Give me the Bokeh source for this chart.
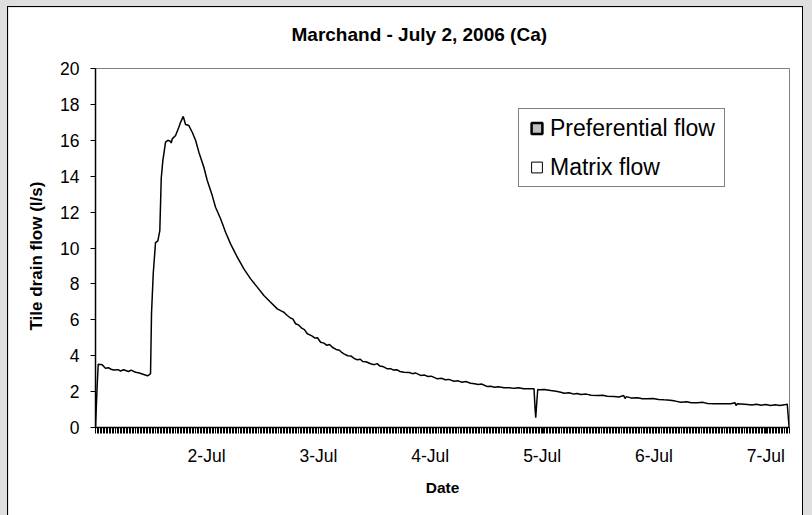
from bokeh.plotting import figure
from bokeh.models import (FixedTicker, Legend, LegendItem, Range1d, Title)
from bokeh.embed import file_html
from bokeh.resources import INLINE

# ---------------- data (hours since 1-Jul 00:00, flow in l/s) ----------------
hours = [0.17, 0.53, 0.75, 1.61, 2.3, 2.96, 3.5, 4.04, 5.0, 5.54, 6.2, 7.26, 7.8,
         8.76, 9.40, 10.2, 11.33, 11.75, 11.98, 12.19, 12.56, 13.05, 13.55, 13.97,
         14.28, 14.62, 15.20, 15.69, 16.20, 16.42, 16.64, 17.35, 18.05, 18.42,
         19.00, 19.49, 20.20, 20.93, 21.64, 22.35, 23.42, 24.15, 25.22, 25.93,
         27.01, 28.08, 29.15, 30.59, 32.01, 33.45, 34.88, 36.30, 37.74, 39.18,
         40.0, 40.6, 41.32, 42.0, 42.5, 43.11, 43.8, 44.5, 45.0, 45.62, 46.5, 47.3,
         47.8, 48.47, 49.2, 49.8, 50.4, 50.98, 51.8, 52.5, 53.0, 53.47, 54.3, 55.0,
         55.6, 56.35, 57.0, 57.5, 58.2, 59.21, 60.0, 60.6, 61.2, 62.0, 62.79, 63.5,
         64.1, 64.8, 65.5, 66.36, 67.5, 68.2, 68.8, 69.94, 70.8, 71.5, 72.2, 73.53,
         74.5, 75.2, 76.0, 77.09, 78.0, 78.8, 79.6, 80.67, 81.5, 82.3, 83.0, 84.26,
         85.0, 85.8, 86.6, 87.82, 89.0, 90.0, 91.0, 92.0, 93.55, 94.26, 94.50, 94.63,
         94.80, 95.06, 95.34, 96.5, 97.85, 99.0, 100.0, 100.71, 101.8, 102.8, 103.5,
         104.29, 105.5, 106.5, 107.87, 109.0, 110.0, 111.43, 112.5, 113.5, 113.8,
         114.1, 115.02, 116.5, 117.5, 118.60, 119.8, 121.0, 122.17, 123.5, 124.6,
         125.75, 127.0, 128.0, 129.34, 130.5, 131.5, 132.91, 134.0, 135.0, 136.48,
         137.4, 137.6, 137.9, 140.07, 141.0, 142.0, 143.0, 144.0, 145.0, 146.0,
         147.0, 148.29, 148.6, 149.00]
flow = [0.0, 2.34, 3.52, 3.50, 3.30, 3.33, 3.24, 3.20, 3.22, 3.15, 3.22, 3.12, 3.20,
        3.08, 3.05, 2.98, 2.88, 2.95, 3.00, 6.35, 8.58, 10.30, 10.40, 10.97,
        13.90, 14.87, 15.90, 16.00, 15.95, 15.85, 16.08, 16.27, 16.73, 17.00,
        17.33, 16.88, 16.82, 16.45, 16.00, 15.34, 14.50, 13.76, 12.92, 12.27,
        11.63, 10.88, 10.23, 9.49, 8.84, 8.28, 7.82, 7.35, 6.98, 6.61,
        6.50, 6.42, 6.24, 6.10, 6.05, 5.78, 5.70, 5.52, 5.45, 5.22, 5.12, 4.98,
        5.00, 4.75, 4.70, 4.58, 4.62, 4.47, 4.35, 4.30, 4.18, 4.10, 4.00, 3.98,
        3.86, 3.77, 3.80, 3.68, 3.66, 3.55, 3.50, 3.56, 3.42, 3.38, 3.27, 3.28,
        3.20, 3.22, 3.12, 3.08, 3.06, 3.00, 3.04, 2.90, 2.92, 2.84, 2.86, 2.71,
        2.74, 2.66, 2.68, 2.58, 2.60, 2.52, 2.56, 2.47, 2.44, 2.40, 2.42, 2.28,
        2.30, 2.24, 2.27, 2.21, 2.22, 2.18, 2.21, 2.16, 2.16, 2.16, 1.00, 0.54,
        1.20, 2.12, 2.10, 2.12, 2.06, 2.02, 1.96, 1.91, 1.94, 1.86, 1.89,
        1.84, 1.86, 1.80, 1.78, 1.80, 1.74, 1.73, 1.70, 1.78, 1.62,
        1.72, 1.65, 1.66, 1.60, 1.60, 1.62, 1.56, 1.54, 1.52, 1.47,
        1.41, 1.44, 1.38, 1.38, 1.40, 1.34, 1.32, 1.32, 1.32, 1.32,
        1.38, 1.22, 1.32, 1.28, 1.25, 1.29, 1.24, 1.28, 1.23, 1.27,
        1.22, 1.28, 1.30, 0.0]

day_ticks = [24, 48, 72, 96, 120, 144]
day_labels = ["2-Jul", "3-Jul", "4-Jul", "5-Jul", "6-Jul", "7-Jul"]
y_ticks = [0, 2, 4, 6, 8, 10, 12, 14, 16, 18, 20]
legend_labels = ["Preferential flow", "Matrix flow"]
title_text = "Marchand - July 2, 2006 (Ca)"
x_title = "Date"
y_title = "Tile drain flow (l/s)"

FONT = "Liberation Sans"
NAN = float("nan")

p = figure(width=794, height=508, output_backend="svg", toolbar_location=None,
           title=None,
           x_range=Range1d(0.17, 149.08), y_range=Range1d(0, 20),
           min_border_left=87, min_border_right=13, min_border_top=61,
           min_border_bottom=88, background_fill_color="white",
           border_fill_color="white", outline_line_color="#808080",
           outline_line_width=1, styles={"outline": "1px solid black"})

p.grid.visible = False

p.line(hours, flow, line_color="black", line_width=1.5)

# legend-only renderers (placeholder, nothing visible in the plot)
r_pref = p.scatter(x=[NAN], y=[NAN], marker="square", fill_color="#c0c0c0",
                   line_color="black", line_width=2.5)
r_mat = p.scatter(x=[NAN], y=[NAN], marker="square", fill_color="white",
                  line_color="black", line_width=1)
legend = Legend(items=[LegendItem(label=legend_labels[0], renderers=[r_pref]),
                       LegendItem(label=legend_labels[1], renderers=[r_mat])],
                location=(423, 240), orientation="vertical",
                border_line_color="black", border_line_width=1,
                background_fill_color="white", background_fill_alpha=1,
                padding=4, spacing=9, margin=0, glyph_width=27, glyph_height=30,
                label_height=30, label_standoff=0, label_width=170,
                label_text_font=FONT, label_text_font_size="23px",
                label_text_color="black")
p.add_layout(legend)

# spacer between the frame and the chart title, then the title itself
spacer = Title(text=" ", text_font_size="2px", standoff=20)
p.add_layout(spacer, "above")
main_title = Title(text=title_text, text_font=FONT, text_font_size="19px",
                   text_font_style="bold", align="left", offset=196,
                   vertical_align="bottom", standoff=0, text_color="black")
p.add_layout(main_title, "above")

# y-axis title as a side title (rotated), so it can be shifted along the axis
y_title_obj = Title(text=y_title, text_font=FONT, text_font_size="17px",
                    text_font_style="bold", align="left", offset=97,
                    vertical_align="bottom", standoff=24, text_color="black")
p.add_layout(y_title_obj, "left")

# x axis
xa = p.xaxis[0]
xa.ticker = FixedTicker(ticks=day_ticks,
                        minor_ticks=[0.17 + 0.33 * i for i in range(452)])
xa.major_label_overrides = {t: l for t, l in zip(day_ticks, day_labels)}
xa.axis_label = x_title
xa.axis_label_text_font = FONT
xa.axis_label_text_font_size = "15.5px"
xa.axis_label_text_font_style = "bold"
xa.axis_label_text_color = "black"
xa.axis_label_standoff = 10
xa.major_label_text_font = FONT
xa.major_label_text_font_size = "17.5px"
xa.major_label_text_color = "black"
xa.major_label_standoff = 12
xa.major_tick_in = 0
xa.major_tick_out = 6
xa.major_tick_line_color = "black"
xa.minor_tick_in = 0
xa.minor_tick_out = 6
xa.minor_tick_line_color = "black"
xa.axis_line_color = "black"
xa.axis_line_width = 1.5

# y axis
ya = p.yaxis[0]
ya.ticker = FixedTicker(ticks=y_ticks)
ya.major_label_text_font = FONT
ya.major_label_text_font_size = "17.5px"
ya.major_label_text_color = "black"
ya.major_label_standoff = 11
ya.major_tick_in = 0
ya.major_tick_out = 5
ya.major_tick_line_color = "black"
ya.minor_tick_line_color = None
ya.axis_line_color = "black"
ya.axis_line_width = 1.5

tmpl = ("{% block preamble %}<style>"
        "html { background: #dfdfdf !important; }"
        "body { background: #dfdfdf !important; padding: 7px 0 0 8px !important; "
        "box-sizing: border-box !important; }"
        "</style>{% endblock %}")
open("out.html", "w").write(file_html(p, INLINE, template=tmpl))
